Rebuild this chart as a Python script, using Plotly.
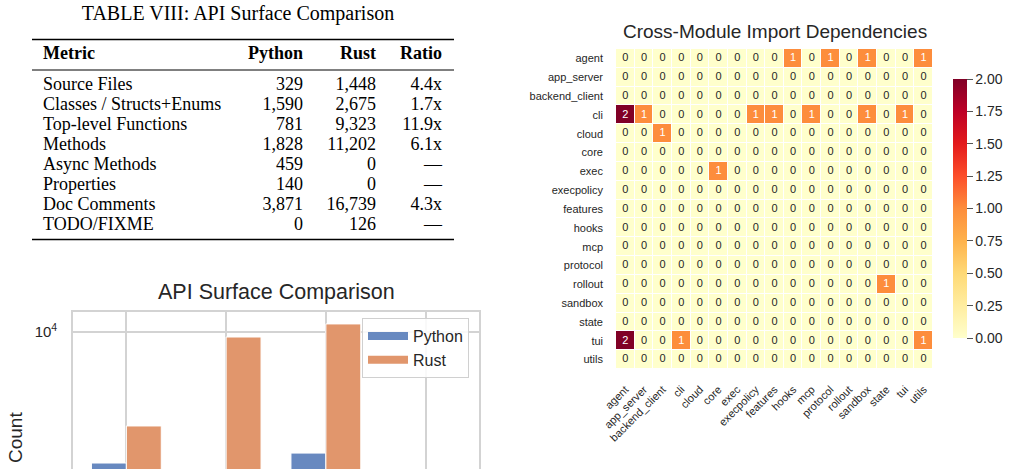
import plotly.graph_objects as go

# ---------------- data ----------------
table_title = "TABLE VIII: API Surface Comparison"
table_header = ["Metric", "Python", "Rust", "Ratio"]
metrics = ["Source Files", "Classes / Structs+Enums", "Top-level Functions", "Methods",
           "Async Methods", "Properties", "Doc Comments", "TODO/FIXME"]
python_counts = [329, 1590, 781, 1828, 459, 140, 3871, 0]
rust_counts = [1448, 2675, 9323, 11202, 0, 0, 16739, 126]
ratio_labels = ["4.4x", "1.7x", "11.9x", "6.1x", "\u2014", "\u2014", "4.3x", "\u2014"]

bar_title = "API Surface Comparison"
bar_categories = ["Classes", "Functions", "Methods", "Async Methods"]
bar_python = [1590, 781, 1828, 459]
bar_rust = [2675, 9323, 11202, 0]

heat_title = "Cross-Module Import Dependencies"
modules = ["agent", "app_server", "backend_client", "cli", "cloud", "core", "exec",
           "execpolicy", "features", "hooks", "mcp", "protocol", "rollout", "sandbox",
           "state", "tui", "utils"]
deps = [
    [0, 0, 0, 0, 0, 0, 0, 0, 0, 1, 0, 1, 0, 1, 0, 0, 1],  # agent
    [0] * 17,  # app_server
    [0] * 17,  # backend_client
    [2, 1, 0, 0, 0, 0, 0, 1, 1, 0, 1, 0, 0, 1, 0, 1, 0],  # cli
    [0, 0, 1, 0, 0, 0, 0, 0, 0, 0, 0, 0, 0, 0, 0, 0, 0],  # cloud
    [0] * 17,  # core
    [0, 0, 0, 0, 0, 1, 0, 0, 0, 0, 0, 0, 0, 0, 0, 0, 0],  # exec
    [0] * 17,  # execpolicy
    [0] * 17,  # features
    [0] * 17,  # hooks
    [0] * 17,  # mcp
    [0] * 17,  # protocol
    [0, 0, 0, 0, 0, 0, 0, 0, 0, 0, 0, 0, 0, 0, 1, 0, 0],  # rollout
    [0] * 17,  # sandbox
    [0] * 17,  # state
    [2, 0, 0, 1, 0, 0, 0, 0, 0, 0, 0, 0, 0, 0, 0, 0, 1],  # tui
    [0] * 17,  # utils
]

# ---------------- style ----------------
W, H = 1013, 469
TXT = "#262626"
GRID = "#d3d3d3"
BLUE = "rgb(104,137,192)"
ORANGE = "rgb(225,150,108)"
SANS = "Liberation Sans, Arial, sans-serif"
SERIF = "Liberation Serif, Times New Roman, serif"
YLORRD = ["#ffffcc", "#ffeda0", "#fed976", "#feb24c", "#fd8d3c",
          "#fc4e2a", "#e31a1c", "#bd0026", "#800026"]
colorscale = [[i / (len(YLORRD) - 1), c] for i, c in enumerate(YLORRD)]

fig = go.Figure()

# ---------------- table (text traces on a hidden pixel axis) ----------------
TW, TH = 476, 248
row_y0, row_h = 85, 20
header_y = 54
title_y = 14.5
col_x = {"metric": 43, "python": 303, "rust": 376, "ratio": 442}
rule_x = [32, 454]
title_x = 238

row_ys = [row_y0 + i * row_h for i in range(len(metrics))]

fig.add_trace(go.Scatter(
    x=[col_x["metric"]] * len(metrics), y=row_ys, text=metrics, mode="text",
    textposition="middle right", textfont=dict(family=SERIF, size=18, color="black"),
    xaxis="x3", yaxis="y3", showlegend=False, hoverinfo="skip"))
for key, vals in (("python", [f"{v:,}" for v in python_counts]),
                  ("rust", [f"{v:,}" for v in rust_counts]),
                  ("ratio", ratio_labels)):
    fig.add_trace(go.Scatter(
        x=[col_x[key]] * len(vals), y=row_ys, text=vals, mode="text",
        textposition="middle left", textfont=dict(family=SERIF, size=18, color="black"),
        xaxis="x3", yaxis="y3", showlegend=False, hoverinfo="skip"))
# header
fig.add_trace(go.Scatter(
    x=[col_x["metric"]], y=[header_y], text=["<b>%s</b>" % table_header[0]], mode="text",
    textposition="middle right", textfont=dict(family=SERIF, size=18, color="black"),
    xaxis="x3", yaxis="y3", showlegend=False, hoverinfo="skip"))
fig.add_trace(go.Scatter(
    x=[col_x["python"], col_x["rust"], col_x["ratio"]], y=[header_y] * 3,
    text=["<b>%s</b>" % h for h in table_header[1:]], mode="text",
    textposition="middle left", textfont=dict(family=SERIF, size=18, color="black"),
    xaxis="x3", yaxis="y3", showlegend=False, hoverinfo="skip"))
# title
fig.add_trace(go.Scatter(
    x=[title_x], y=[title_y], text=[table_title], mode="text",
    textposition="middle center", textfont=dict(family=SERIF, size=20, color="black"),
    xaxis="x3", yaxis="y3", showlegend=False, hoverinfo="skip"))
# rules
for ry, lw in ((39.5, 1.7), (70, 1.0), (239.5, 1.7)):
    fig.add_shape(type="line", xref="x3", yref="y3", x0=rule_x[0], x1=rule_x[1],
                  y0=ry, y1=ry, line=dict(color="black", width=lw))

# ---------------- bar chart ----------------
fig.add_trace(go.Bar(x=bar_categories, y=bar_python, name="Python", marker_color=BLUE,
                     marker_line=dict(color="white", width=1), showlegend=False,
                     xaxis="x", yaxis="y", hoverinfo="skip"))
fig.add_trace(go.Bar(x=bar_categories, y=bar_rust, name="Rust", marker_color=ORANGE,
                     marker_line=dict(color="white", width=1), showlegend=False,
                     xaxis="x", yaxis="y", hoverinfo="skip"))
# legend proxies (wide patches like matplotlib)
for nm, col in (("Python", BLUE), ("Rust", ORANGE)):
    fig.add_trace(go.Scatter(x=[None], y=[None], mode="lines", name=nm,
                             line=dict(color=col, width=8), xaxis="x", yaxis="y"))

# ---------------- heatmap ----------------
n = len(modules)
fig.add_trace(go.Heatmap(
    z=deps, x=modules, y=modules, colorscale=colorscale, zmin=0, zmax=2,
    xgap=1, ygap=1, xaxis="x2", yaxis="y2", hoverinfo="skip",
    colorbar=dict(x=953 / W, xanchor="left", y=1 - 208.5 / H, yanchor="middle",
                  len=259, lenmode="pixels", thickness=14, outlinewidth=0,
                  xpad=0, ypad=0, tickmode="linear", tick0=0, dtick=0.25,
                  tickformat=".2f", ticks="outside", ticklen=6, tickwidth=1.2,
                  tickcolor="#555555",
                  tickfont=dict(family=SANS, size=14, color=TXT))))
cell_x, cell_y, cell_t, cell_c = [], [], [], []
for r, rname in enumerate(modules):
    for c, cname in enumerate(modules):
        v = deps[r][c]
        cell_x.append(cname)
        cell_y.append(rname)
        cell_t.append(str(v))
        cell_c.append("white" if v >= 1 else TXT)
fig.add_trace(go.Scatter(x=cell_x, y=cell_y, text=cell_t, mode="text",
                         textfont=dict(family=SANS, size=11, color=cell_c),
                         xaxis="x2", yaxis="y2", showlegend=False, hoverinfo="skip"))

# ---------------- layout ----------------
bar_top = 312
fig.update_layout(
    template="none",
    width=W, height=H, margin=dict(l=0, r=0, t=0, b=0, autoexpand=False),
    paper_bgcolor="white", plot_bgcolor="white",
    font=dict(family=SANS, color=TXT),
    bargap=0.3, bargroupgap=0, barmode="group",
    xaxis=dict(domain=[73 / W, 479 / W], range=[-0.535, 3.535], side="top",
               showticklabels=False, showgrid=True, gridcolor=GRID, gridwidth=1.6,
               showline=True, linecolor=GRID, linewidth=1.6, zeroline=False,
               ticks="", automargin=False, anchor="y"),
    yaxis=dict(domain=[0, 1 - bar_top / H], type="log", range=[3.165, 4.122],
               tickmode="array", tickvals=[1e4], ticktext=["10<sup>4</sup>"],
               tickfont=dict(size=15, color=TXT), ticklabelstandoff=11, ticks="",
               showgrid=True, gridcolor=GRID, gridwidth=1.6,
               showline=True, mirror=True, linecolor=GRID, linewidth=1.6,
               zeroline=False, automargin=False, anchor="x"),
    xaxis2=dict(domain=[616 / W, 933 / W], range=[-0.5, n - 0.5], tickangle=-45,
                tickfont=dict(size=11, color=TXT), showgrid=False, zeroline=False,
                showline=False, ticks="", ticklabelstandoff=11, anchor="y2",
                automargin=False),
    yaxis2=dict(domain=[1 - 369 / H, 1 - 49 / H], range=[n - 0.5, -0.5],
                tickfont=dict(size=11, color=TXT), showgrid=False, zeroline=False,
                showline=False, ticks="", ticklabelstandoff=12, anchor="x2",
                automargin=False),
    xaxis3=dict(domain=[0, TW / W], range=[0, TW], visible=False, anchor="y3",
                automargin=False),
    yaxis3=dict(domain=[1 - TH / H, 1], range=[TH, 0], visible=False, anchor="x3",
                automargin=False),
    legend=dict(x=362 / W, y=1 - 318 / H, xanchor="left", yanchor="top",
                bgcolor="rgba(255,255,255,0.85)", bordercolor="#d0d0d0",
                borderwidth=1, font=dict(size=16, color=TXT), itemwidth=40,
                tracegroupgap=0),
    annotations=[
        dict(text=bar_title, x=(73 + 479) / 2 / W, y=1 - 292 / H, xref="paper",
             yref="paper", showarrow=False, font=dict(size=21.5, color=TXT),
             xanchor="center", yanchor="middle"),
        dict(text=heat_title, x=774.5 / W, y=1 - 31 / H, xref="paper", yref="paper",
             showarrow=False, font=dict(size=19, color=TXT), xanchor="center",
             yanchor="middle"),
        dict(text="Count", x=15 / W, y=1 - 438 / H, xref="paper", yref="paper",
             showarrow=False, textangle=-90, font=dict(size=19, color=TXT),
             xanchor="center", yanchor="middle"),
    ],
)

fig.write_html("out.html")
